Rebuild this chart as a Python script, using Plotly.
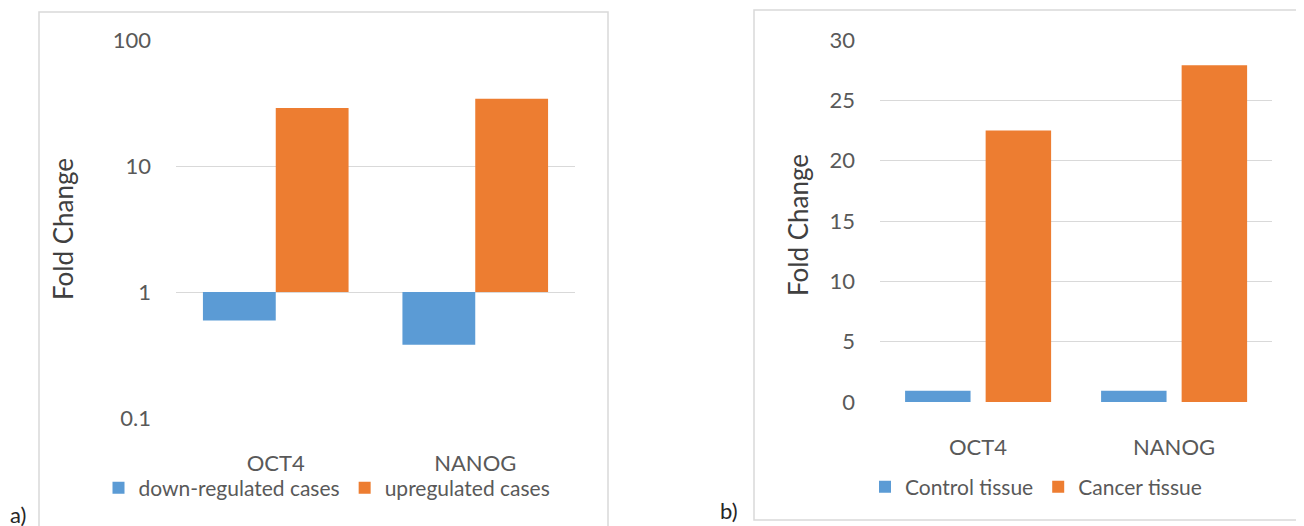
import plotly.graph_objects as go

W, H = 1304, 526
# the page body has an 8px default margin: shift the layout to compensate
OFF = 8

genes = ["OCT4", "NANOG"]
# panel a (log scale, bars hang from 1)
down_regulated = [0.594, 0.381]
up_regulated = [28.9, 34.1]
# panel b (linear)
control_tissue = [0.94, 0.94]
cancer_tissue = [22.5, 27.9]

y_ticks_a = [0.1, 1, 10, 100]
y_tick_text_a = ["0.1", "1", "10", "100"]
y_ticks_b = [0, 5, 10, 15, 20, 25, 30]

BLUE = "#5B9BD5"
ORANGE = "#ED7D31"
GRID = "#D9D9D9"
TXT = "#595959"
FONT = "Lato, 'Open Sans', sans-serif"


def px(x):
    return (x - OFF) / W


def py(y):
    return 1 - (y - OFF) / H


fig = go.Figure()

fig.add_trace(go.Bar(
    x=genes, y=[v - 1 for v in down_regulated], base=[1] * len(genes),
    name="down-regulated cases", marker=dict(color=BLUE, line=dict(width=0)),
    xaxis="x", yaxis="y", legend="legend", offsetgroup="a1"))
fig.add_trace(go.Bar(
    x=genes, y=[v - 1 for v in up_regulated], base=[1] * len(genes),
    name="upregulated cases", marker=dict(color=ORANGE, line=dict(width=0)),
    xaxis="x", yaxis="y", legend="legend", offsetgroup="a2"))

fig.add_trace(go.Bar(
    x=genes, y=control_tissue, name="Control tissue",
    marker=dict(color=BLUE, line=dict(width=0)),
    width=0.334, offset=-0.372,
    xaxis="x2", yaxis="y2", legend="legend2"))
fig.add_trace(go.Bar(
    x=genes, y=cancer_tissue, name="Cancer tissue",
    marker=dict(color=ORANGE, line=dict(width=0)),
    width=0.334, offset=0.039,
    xaxis="x2", yaxis="y2", legend="legend2"))

common_x = dict(showgrid=False, showline=False, zeroline=False, ticks="",
                tickfont=dict(family=FONT, size=22, color=TXT), fixedrange=True,
                automargin=False)
common_y = dict(showline=False, zeroline=False, gridcolor=GRID, gridwidth=1.3,
                ticks="", tickfont=dict(family=FONT, size=22, color=TXT),
                fixedrange=True, automargin=False)

fig.update_layout(
    width=W, height=H,
    margin=dict(l=0, r=0, t=0, b=0, pad=0, autoexpand=False),
    paper_bgcolor="white", plot_bgcolor="white",
    barmode="group",
    bargap=0.27, bargroupgap=0.0,
    xaxis=dict(domain=[px(176), px(575)], anchor="y",
               ticklabelstandoff=30, **common_x),
    yaxis=dict(domain=[py(418), py(40)], anchor="x", type="log",
               range=[-1, 2], tickvals=y_ticks_a, ticktext=y_tick_text_a,
               ticklabelstandoff=24, **common_y),
    xaxis2=dict(domain=[px(880), px(1272)], anchor="y2",
                ticklabelstandoff=30, **common_x),
    yaxis2=dict(domain=[py(402), py(40)], anchor="x2", range=[0, 30],
                tickvals=y_ticks_b, ticklabelstandoff=24, **common_y),
    legend=dict(orientation="h", x=px(327), xanchor="center",
                y=py(488), yanchor="middle",
                font=dict(family=FONT, size=21, color=TXT),
                bgcolor="rgba(0,0,0,0)", itemclick=False, itemdoubleclick=False),
    legend2=dict(orientation="h", x=px(1036), xanchor="center",
                 y=py(487), yanchor="middle",
                 font=dict(family=FONT, size=21, color=TXT),
                 bgcolor="rgba(0,0,0,0)", itemclick=False, itemdoubleclick=False),
    showlegend=True,
)

# frames
fig.add_shape(type="rect", xref="paper", yref="paper",
              x0=px(39), x1=px(608), y0=py(545), y1=py(12),
              line=dict(color=GRID, width=1.5), fillcolor="rgba(0,0,0,0)", layer="below")
fig.add_shape(type="rect", xref="paper", yref="paper",
              x0=px(754), x1=px(1301), y0=py(520), y1=py(10),
              line=dict(color=GRID, width=1.5), fillcolor="rgba(0,0,0,0)", layer="below")

# axis titles and panel labels
fig.add_annotation(text="Fold Change", xref="paper", yref="paper",
                   x=px(63), y=py(229), textangle=-90, showarrow=False,
                   xanchor="center", yanchor="middle",
                   font=dict(family=FONT, size=26, color="#404040"))
fig.add_annotation(text="Fold Change", xref="paper", yref="paper",
                   x=px(798), y=py(225), textangle=-90, showarrow=False,
                   xanchor="center", yanchor="middle",
                   font=dict(family=FONT, size=26, color="#404040"))
fig.add_annotation(text="a)", xref="paper", yref="paper",
                   x=px(18), y=py(514), showarrow=False,
                   xanchor="center", yanchor="middle",
                   font=dict(family=FONT, size=22, color="#262626"))
fig.add_annotation(text="b)", xref="paper", yref="paper",
                   x=px(729), y=py(510), showarrow=False,
                   xanchor="center", yanchor="middle",
                   font=dict(family=FONT, size=22, color="#262626"))

fig.write_html("out.html")
